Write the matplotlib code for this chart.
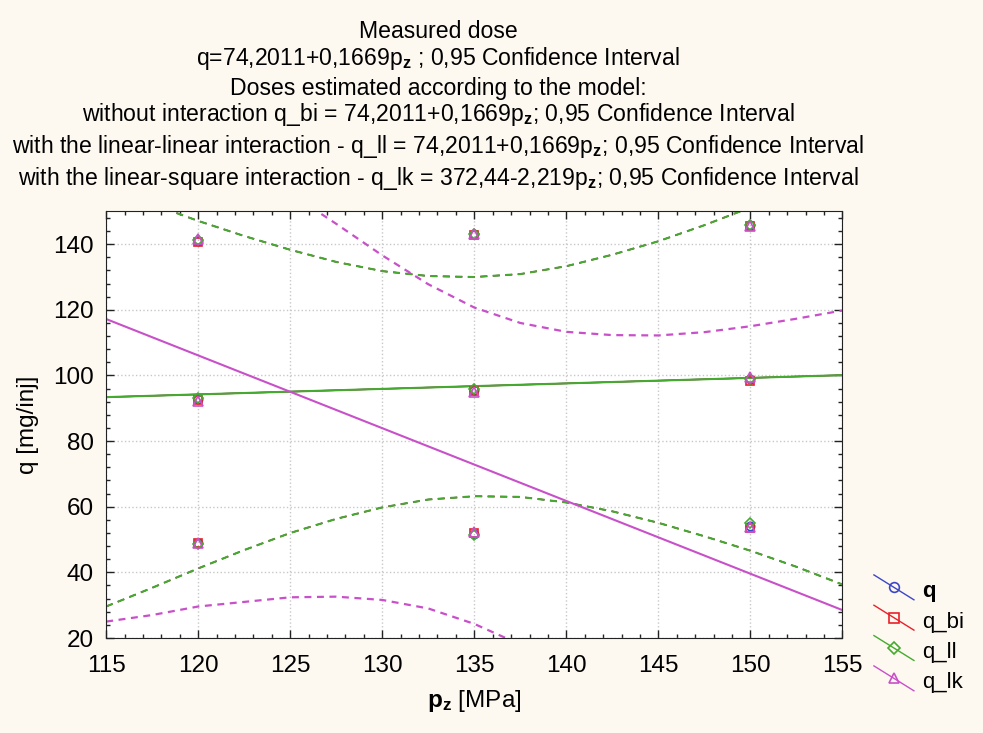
import numpy as np
import matplotlib.pyplot as plt
from matplotlib.lines import Line2D
from matplotlib.legend_handler import HandlerLine2D
from matplotlib.ticker import MultipleLocator

plt.rcParams['font.family'] = ['Liberation Sans', 'DejaVu Sans']
plt.rcParams['mathtext.fontset'] = 'custom'
plt.rcParams['mathtext.rm'] = 'Liberation Sans'
plt.rcParams['mathtext.it'] = 'Liberation Sans:italic'
plt.rcParams['mathtext.bf'] = 'Liberation Sans:bold'
plt.rcParams['lines.scale_dashes'] = False

# measured points (pressure levels, three doses each)
pz_points = [120, 120, 120, 135, 135, 135, 150, 150, 150]
q_meas = [141.0, 92.8, 48.8, 143.0, 95.5, 51.6, 145.8, 99.0, 54.0]
q_bi = [140.8, 92.5, 48.9, 142.8, 95.2, 52.0, 145.5, 98.2, 53.6]
q_ll = [141.3, 93.0, 48.5, 143.2, 95.8, 51.3, 145.9, 99.0, 54.9]
q_lk = [141.6, 92.3, 48.9, 143.1, 95.0, 52.3, 145.6, 99.5, 53.8]

# fitted lines, read at the axis ends
pz_ends = [115, 155]
fit_lin = [93.4, 100.1]
fit_lk = [117.2, 28.5]

# confidence bands
pz_grid = [115, 117.5, 120, 122.5, 125, 127.5, 130, 132.5, 135,
           137.5, 140, 142.5, 145, 147.5, 150, 152.5, 155]
lin_upper = [157.5, 152.2, 147.1, 142.5, 138.3, 134.6, 131.8, 130.3, 130.0,
             130.9, 133.3, 136.8, 140.9, 145.8, 151.2, 157.0, 163.0]
lin_lower = [29.6, 35.3, 41.2, 46.8, 52.0, 56.3, 59.8, 62.2, 63.2,
             63.0, 61.3, 58.6, 55.1, 51.0, 46.6, 41.7, 36.3]
lk_upper = [195.0, 185.0, 175.0, 165.0, 155.5, 146.2, 136.6, 127.8, 120.7,
            116.0, 113.3, 112.3, 112.2, 113.2, 115.0, 117.3, 119.8]
lk_lower = [25.0, 27.0, 29.6, 31.0, 32.4, 32.6, 31.6, 29.0, 24.3, 18.0]

c_q = '#3c46c8'
c_bi = '#e8202a'
c_ll = '#46aa30'
c_lk = '#c850c8'
bg = '#fdf9f0'


class DiagHandler(HandlerLine2D):
    def create_artists(self, legend, orig_handle, xdescent, ydescent,
                       width, height, fontsize, trans):
        x0, x1 = -xdescent, -xdescent + width
        y0, y1 = -ydescent + height * 1.3, -ydescent - height * 0.05
        ln = Line2D([x0, x1], [y0, y1], color=orig_handle.get_color(), lw=1)
        mk = Line2D([(x0 + x1) / 2], [(y0 + y1) / 2],
                    marker=orig_handle.get_marker(), ls='none', mfc='none',
                    mec=orig_handle.get_color(), ms=orig_handle.get_markersize() + 1,
                    mew=1.2)
        ln.set_transform(trans)
        mk.set_transform(trans)
        return [ln, mk]


fig = plt.figure(figsize=(9.83, 7.33), dpi=100, facecolor=bg)
ax = fig.add_axes([0.108, 0.1296, 0.749, 0.582])
ax.set_facecolor('white')

dash = (0, (5, 4))
# q and q_bi share the same fit as q_ll, drawn underneath
for col, lw in ((c_q, 1.0), (c_bi, 1.0), (c_ll, 1.5)):
    ax.plot(pz_ends, fit_lin, color=col, lw=lw)
    ax.plot(pz_grid, lin_upper, color=col, lw=lw, ls=dash)
    ax.plot(pz_grid, lin_lower, color=col, lw=lw, ls=dash)
ax.plot(pz_ends, fit_lk, color=c_lk, lw=1.5)
ax.plot(pz_grid, lk_upper, color=c_lk, lw=1.6, ls=dash)
ax.plot(pz_grid[:len(lk_lower)], lk_lower, color=c_lk, lw=1.6, ls=dash)

h_q, = ax.plot(pz_points, q_meas, 'o', ms=6, mfc='none', mec=c_q, mew=1.2, color=c_q)
h_bi, = ax.plot(pz_points, q_bi, 's', ms=6, mfc='none', mec=c_bi, mew=1.2, color=c_bi)
h_ll, = ax.plot(pz_points, q_ll, 'D', ms=5, mfc='none', mec=c_ll, mew=1.2, color=c_ll)
h_lk, = ax.plot(pz_points, q_lk, '^', ms=6.5, mfc='none', mec=c_lk, mew=1.2, color=c_lk)

ax.set_xlim(115, 155)
ax.set_ylim(20, 150)
ax.xaxis.set_major_locator(MultipleLocator(5))
ax.xaxis.set_minor_locator(MultipleLocator(1))
ax.yaxis.set_major_locator(MultipleLocator(20))
ax.yaxis.set_minor_locator(MultipleLocator(4))
ax.tick_params(which='both', direction='in', top=True, right=True,
               labelsize=17.5, width=1, color='#222222')
ax.tick_params(axis='x', which='major', length=6, pad=12)
ax.tick_params(axis='y', which='major', length=6, pad=9)
ax.tick_params(which='minor', length=3)
ax.grid(True, which='major', color='#c8c8c8', ls=':', lw=1)
for s in ax.spines.values():
    s.set_color('#222222')

ax.set_xlabel(r'$\mathbf{p_z}$ [MPa]', fontsize=17.5, labelpad=8)
ax.set_ylabel('q [mg/inj]', fontsize=17.5, labelpad=10)

title_lines = [
    'Measured dose',
    r'q=74,2011+0,1669p$_\mathbf{z}$ ; 0,95 Confidence Interval',
    'Doses estimated according to the model:',
    r'without interaction q_bi = 74,2011+0,1669p$_\mathbf{z}$; 0,95 Confidence Interval',
    r'with the linear-linear interaction - q_ll = 74,2011+0,1669p$_\mathbf{z}$; 0,95 Confidence Interval',
    r'with the linear-square interaction - q_lk = 372,44-2,219p$_\mathbf{z}$; 0,95 Confidence Interval',
]
title_y = [32, 58, 89, 115, 147, 179]
for txt, yy in zip(title_lines, title_y):
    fig.text(0.4456, 1 - yy / 733, txt, ha='center', va='center', fontsize=16.6)

leg = fig.legend([h_q, h_bi, h_ll, h_lk], ['q', 'q_bi', 'q_ll', 'q_lk'],
                 loc='lower left', bbox_to_anchor=(0.880, 0.042), frameon=False,
                 fontsize=16, handlelength=1.8, handleheight=0.9,
                 handletextpad=0.35, labelspacing=0.38, borderaxespad=0,
                 handler_map={Line2D: DiagHandler()})
leg.get_texts()[0].set_fontweight('bold')

fig.savefig('out.png', dpi=100, facecolor=bg)
